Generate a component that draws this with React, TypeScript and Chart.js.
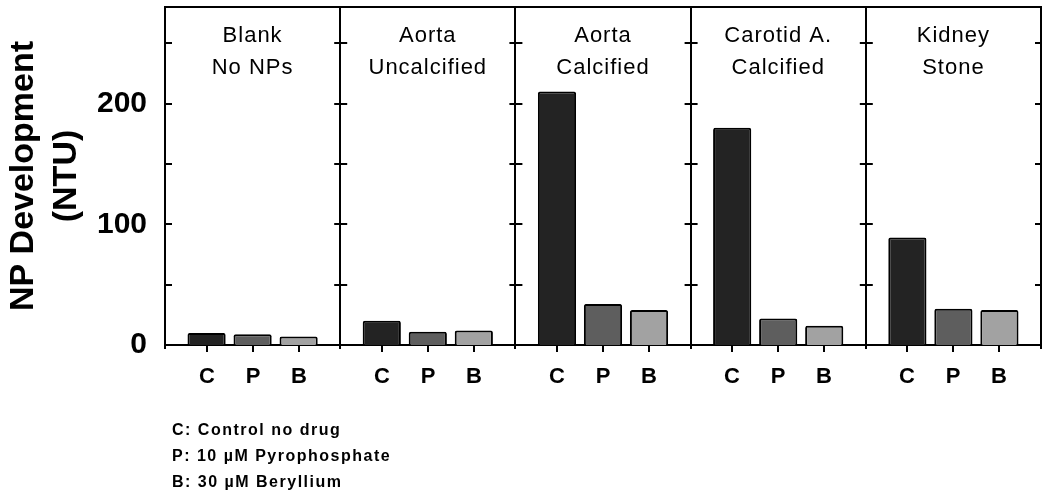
import React, { useEffect, useRef } from 'react';
import { Chart, registerables } from 'chart.js';

Chart.register(...registerables);

// ---- data ----
const panelTitleTop = ['Blank', 'Aorta', 'Aorta', 'Carotid A.', 'Kidney'];
const panelTitleBottom = ['No NPs', 'Uncalcified', 'Calcified', 'Calcified', 'Stone'];
const treatmentCodes = ['C', 'P', 'B'];
const controlValues = [10, 20, 210, 180, 89];
const pyrophosphateValues = [9, 11, 34, 22, 30];
const berylliumValues = [7, 12, 29, 16, 29];
const yLabelValues = [0, 100, 200];
const yTickMarkValues = [50, 100, 150, 200, 250];
const yTitleLines = ['NP Development', '(NTU)'];
const legendLines = ['C: Control no drug', 'P: 10 \u00B5M Pyrophosphate', 'B: 30 \u00B5M Beryllium'];

const FF = 'Arial, "Liberation Sans", Helvetica, sans-serif';
const barColors = ['#232323', '#5e5e5e', '#a2a2a2'];

const decorPlugin = {
  id: 'decor',
  afterDatasetsDraw(chart: any) {
    const ctx = chart.ctx;
    const area = chart.chartArea;
    const xs = chart.scales.x;
    const ys = chart.scales.y;
    const n = panelTitleTop.length;
    const pw = (xs.right - xs.left) / n;
    ctx.save();
    ctx.strokeStyle = '#000';
    ctx.lineWidth = 2;
    // top border
    ctx.beginPath();
    ctx.moveTo(area.left - 1, area.top);
    ctx.lineTo(area.right + 1, area.top);
    ctx.stroke();
    // inside y tick marks on every panel boundary
    for (let i = 0; i <= n; i++) {
      const bx = xs.left + i * pw;
      for (const v of yTickMarkValues) {
        const y = Math.round(ys.getPixelForValue(v));
        ctx.beginPath();
        ctx.moveTo(i === 0 ? bx : bx - 6, y);
        ctx.lineTo(i === n ? bx : bx + 7, y);
        ctx.stroke();
      }
    }
    // x tick marks under each bar and C/P/B labels
    ctx.fillStyle = '#000';
    ctx.textAlign = 'center';
    ctx.textBaseline = 'alphabetic';
    ctx.font = `bold 22px ${FF}`;
    chart.data.datasets.forEach((ds: any, di: number) => {
      const meta = chart.getDatasetMeta(di);
      meta.data.forEach((el: any) => {
        const x = Math.round(el.x);
        ctx.beginPath();
        ctx.moveTo(x, area.bottom);
        ctx.lineTo(x, area.bottom + 7);
        ctx.stroke();
        ctx.fillText(treatmentCodes[di], x, area.bottom + 38);
      });
    });
    // panel titles
    ctx.font = `22px ${FF}`;
    (ctx as any).letterSpacing = '1px';
    for (let i = 0; i < n; i++) {
      const cx = xs.getPixelForValue(i);
      ctx.fillText(panelTitleTop[i], cx, area.top + 35);
      ctx.fillText(panelTitleBottom[i], cx, area.top + 67);
    }
    // legend
    ctx.textAlign = 'left';
    ctx.font = `bold 16px ${FF}`;
    (ctx as any).letterSpacing = '1.5px';
    legendLines.forEach((t, i) => {
      ctx.fillText(t, 172, 435 + i * 26);
    });
    (ctx as any).letterSpacing = '0px';
    // y axis title
    ctx.font = `bold 34px ${FF}`;
    ctx.textAlign = 'center';
    const cy = (area.top + area.bottom) / 2;
    const baselines = [33, 76];
    yTitleLines.forEach((t, i) => {
      ctx.save();
      ctx.translate(baselines[i], cy);
      ctx.rotate(-Math.PI / 2);
      ctx.fillText(t, 0, 0);
      ctx.restore();
    });
    ctx.restore();
  },
};

export default function App() {
  const ref = useRef<HTMLCanvasElement | null>(null);
  useEffect(() => {
    if (!ref.current) return;
    const chart = new Chart(ref.current, {
      type: 'bar',
      data: {
        labels: panelTitleTop.map((t, i) => `${t} ${panelTitleBottom[i]}`),
        datasets: [
          { label: treatmentCodes[0], data: controlValues },
          { label: treatmentCodes[1], data: pyrophosphateValues },
          { label: treatmentCodes[2], data: berylliumValues },
        ].map((d, i) => ({
          ...d,
          backgroundColor: barColors[i],
          borderColor: '#000',
          borderWidth: 2,
          borderRadius: 2,
          categoryPercentage: 0.788,
          barPercentage: 0.83,
        })),
      },
      options: {
        animation: false,
        responsive: true,
        maintainAspectRatio: false,
        layout: { padding: { top: 7, right: 9, left: 0, bottom: 0 } },
        plugins: { legend: { display: false }, tooltip: { enabled: false }, title: { display: false } },
        scales: {
          x: {
            type: 'category',
            offset: true,
            grid: { display: true, offset: true, color: '#000', lineWidth: 2, drawOnChartArea: true, drawTicks: true, tickLength: 4 },
            border: { display: true, color: '#000', width: 2 },
            ticks: { display: false },
            afterFit: (s: any) => {
              s.height = 153;
              s.paddingLeft = 0;
              s.paddingRight = 0;
            },
          },
          y: {
            type: 'linear',
            min: 0,
            max: 280,
            grid: { display: false, drawTicks: false },
            border: { display: true, color: '#000', width: 2 },
            ticks: {
              stepSize: 100,
              padding: 18,
              color: '#000',
              font: { family: FF, size: 30, weight: 'bold' },
              callback: (v: any) => (yLabelValues.includes(Number(v)) ? String(v) : null),
            },
            afterFit: (s: any) => {
              s.width = 165;
              s.paddingTop = 0;
            },
          },
        },
      } as any,
      plugins: [decorPlugin],
    });
    return () => chart.destroy();
  }, []);
  return (
    <div style={{ position: 'absolute', left: 0, top: 0, width: 1050, height: 498, background: '#fff' }}>
      <canvas ref={ref} />
    </div>
  );
}
